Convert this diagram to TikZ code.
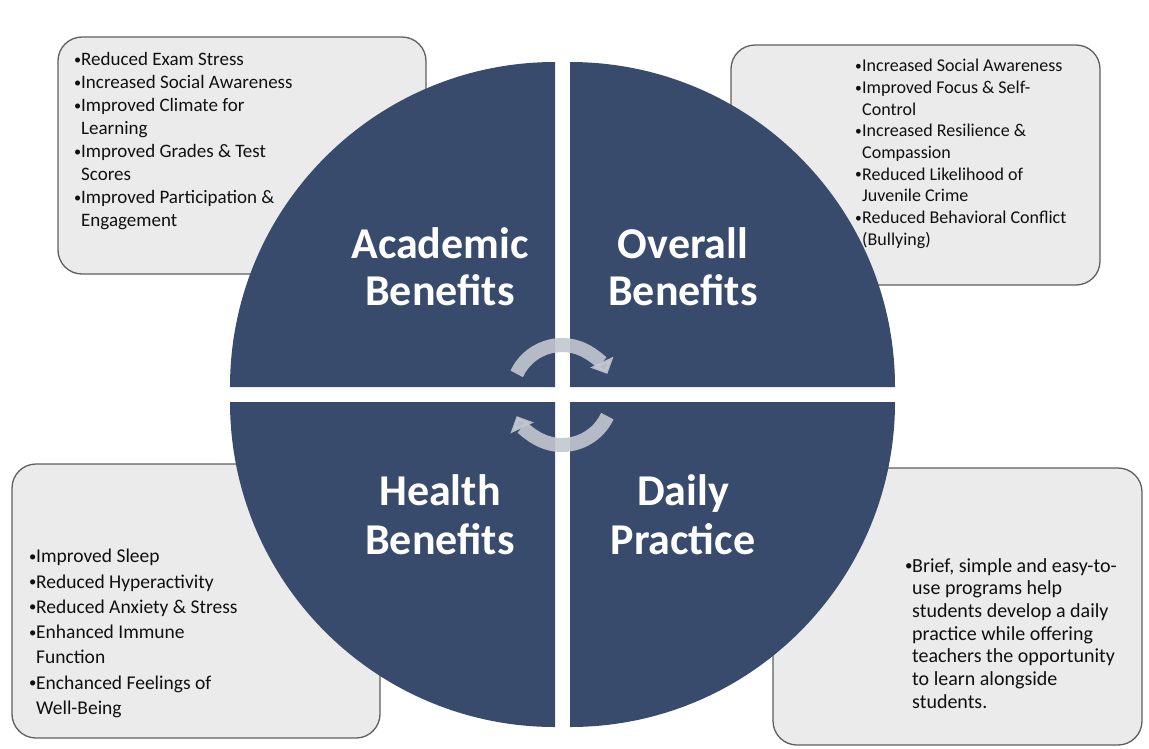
\documentclass[tikz,border=0pt]{standalone}
\usepackage{fontspec}
\setmainfont{Carlito}
\usetikzlibrary{arrows.meta}
\definecolor{quad}{HTML}{394B6C}
\definecolor{boxfill}{HTML}{EBEBEB}
\definecolor{boxline}{HTML}{5F5F5F}
\definecolor{arrowc}{HTML}{C3C8D0}
\definecolor{txt}{HTML}{101010}
\newcommand\bitem{\makebox[7pt][l]{\raisebox{0.07em}{\scalebox{0.75}{\textbullet}}}}
\newcommand\bcont{\hspace*{7pt}}
\begin{document}
\begin{tikzpicture}[x=1pt,y=-1pt,
 infobox/.style={draw=boxline, line width=1.3pt, fill=boxfill, rounded corners=24pt, inner sep=0},
 quadrant/.style={fill=quad, draw=none},
 title/.style={text=white, font=\fontsize{44}{47}\selectfont\bfseries, anchor=base, inner sep=0},
 list/.style={text=txt, align=left, anchor=north west, inner sep=0},
 cyc/.style={draw=arrowc, line width=14pt, -{Triangle[width=25pt,length=13pt]}, opacity=0.9}
]
\useasboundingbox[fill=white] (0,0) rectangle (1149,748);

% boxes
\node[infobox, minimum width=368pt, minimum height=237pt] (box1) at (242,155.5) {};
\node[infobox, minimum width=369pt, minimum height=240pt] (box2) at (915.5,165) {};
\node[infobox, minimum width=368pt, minimum height=274pt] (box3) at (196,601) {};
\node[infobox, minimum width=369pt, minimum height=277pt] (box4) at (957.5,606.5) {};

% lists
\node[list, font=\fontsize{19}{23}\selectfont] (l1) at (74,52) {\bitem Reduced Exam Stress\\ \bitem Increased Social Awareness\\ \bitem Improved Climate for\\ \bcont Learning\\ \bitem Improved Grades \& Test\\ \bcont Scores\\ \bitem Improved Participation \&\\ \bcont Engagement};
\node[list, font=\fontsize{18}{21.7}\selectfont] (l2) at (855,59) {\bitem Increased Social Awareness\\ \bitem Improved Focus \& Self-\\ \bcont Control\\ \bitem Increased Resilience \&\\ \bcont Compassion\\ \bitem Reduced Likelihood of\\ \bcont Juvenile Crime\\ \bitem Reduced Behavioral Conflict\\ \bcont (Bullying)};
\node[list, font=\fontsize{19.5}{25.3}\selectfont] (l3) at (29,549) {\bitem Improved Sleep\\ \bitem Reduced Hyperactivity\\ \bitem Reduced Anxiety \& Stress\\ \bitem Enhanced Immune\\ \bcont Function\\ \bitem Enchanced Feelings of\\ \bcont Well-Being};
\node[list, font=\fontsize{20}{22.7}\selectfont] (l4) at (905,558) {\bitem Brief, simple and easy-to-\\ \bcont use programs help\\ \bcont students develop a daily\\ \bcont practice while offering\\ \bcont teachers the opportunity\\ \bcont to learn alongside\\ \bcont students.};

% quadrants
\path[quadrant] (555,387) -- (230,387) arc[start angle=180, end angle=90, radius=325pt] -- cycle;
\path[quadrant] (570,387) -- (570,62) arc[start angle=90, end angle=0, radius=325pt] -- cycle;
\path[quadrant] (555,402) -- (230,402) arc[start angle=180, end angle=270, radius=325pt] -- cycle;
\path[quadrant] (570,402) -- (895,402) arc[start angle=0, end angle=-90, radius=325pt] -- cycle;

% titles
\node[title] (t1a) at (440,258) {Academic};
\node[title] (t1b) at (440,305) {Benefits};
\node[title] (t2a) at (683,258) {Overall};
\node[title] (t2b) at (683,305) {Benefits};
\node[title] (t3a) at (440,505) {Health};
\node[title] (t3b) at (440,554) {Benefits};
\node[title] (t4a) at (683,505) {Daily};
\node[title] (t4b) at (683,554) {Practice};

% cycle arrows
\coordinate (ctr) at (562,395);
\draw[cyc] ([shift={(155:50pt)}]ctr) arc[start angle=155, end angle=25, radius=50pt];
\draw[cyc] ([shift={(-25:50pt)}]ctr) arc[start angle=-25, end angle=-155, radius=50pt];
\end{tikzpicture}
\end{document}
